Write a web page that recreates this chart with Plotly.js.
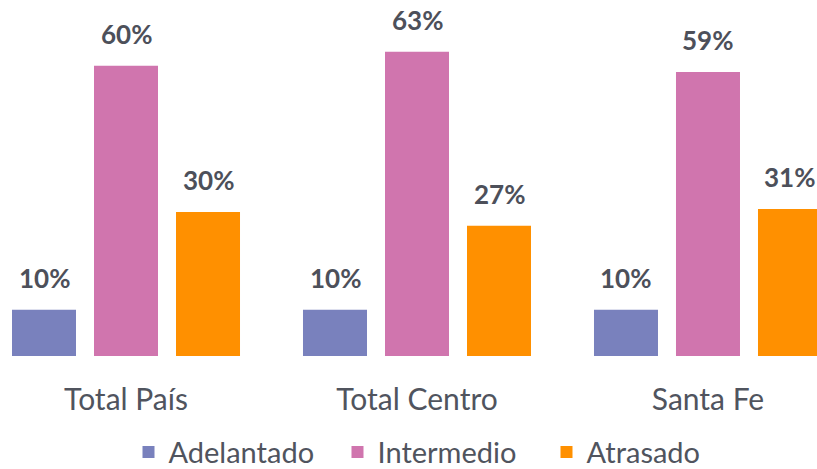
<!DOCTYPE html>
<html>
<head>
<meta charset="utf-8">
<script src="https://cdn.plot.ly/plotly-3.0.1.min.js"></script>
<style>
  body { margin: 0; background: #fff; }
  #graph { width: 817px; height: 469px; }
</style>
</head>
<body>
<div id="graph"></div>
<script>
var regiones = ['Total País', 'Total Centro', 'Santa Fe'];
var adelantado = [9.6, 9.6, 9.6];
var intermedio = [60.2, 63.1, 58.9];
var atrasado = [29.9, 27.0, 30.5];
var txtAdelantado = ['10%', '10%', '10%'];
var txtIntermedio = ['60%', '63%', '59%'];
var txtAtrasado = ['30%', '27%', '31%'];

var fuente = 'Lato, "Open Sans", sans-serif';
var gris = '#50545e';

function serie(nombre, valores, color) {
    return {
        x: regiones,
        y: valores,
        name: nombre,
        type: 'bar',
        marker: { color: color },
        hoverinfo: 'none'
    };
}

var data = [
    serie('Adelantado', adelantado, '#7981bd'),
    serie('Intermedio', intermedio, '#d075ae'),
    serie('Atrasado', atrasado, '#ff9000')
];

// etiquetas de valor sobre cada barra
var valores = [adelantado, intermedio, atrasado];
var textos = [txtAdelantado, txtIntermedio, txtAtrasado];
var annotations = [];
for (var s = 0; s < valores.length; s++) {
    for (var j = 0; j < regiones.length; j++) {
        annotations.push({
            x: regiones[j],
            y: valores[s][j],
            xref: 'x',
            yref: 'y',
            text: '<b>' + textos[s][j] + '</b>',
            showarrow: false,
            xanchor: 'center',
            yanchor: 'bottom',
            xshift: (s - 1) * 82,
            yshift: 14,
            font: { family: fuente, size: 26, color: '#4d505a' }
        });
    }
}

var layout = {
    width: 817,
    height: 469,
    margin: { l: 0, r: 0, t: 0, b: 113, autoexpand: false },
    paper_bgcolor: '#ffffff',
    plot_bgcolor: '#ffffff',
    barmode: 'group',
    bargap: 0.1546,
    bargroupgap: 0.2195,
    font: { family: fuente, color: gris },
    xaxis: {
        range: [-0.433, 2.3746],
        showline: false,
        showgrid: false,
        zeroline: false,
        ticks: '',
        ticklabelstandoff: 23,
        tickfont: { family: fuente, size: 30, color: gris }
    },
    yaxis: {
        range: [0, 73.86],
        visible: false,
        showgrid: false,
        zeroline: false
    },
    annotations: annotations,
    showlegend: true,
    legend: {
        orientation: 'h',
        entrywidth: 164,
        x: 0.541,
        xanchor: 'center',
        y: -0.27,
        yanchor: 'middle',
        font: { family: fuente, size: 29, color: gris },
        itemclick: false
    }
};

Plotly.newPlot('graph', data, layout, { staticPlot: true });
</script>
</body>
</html>
